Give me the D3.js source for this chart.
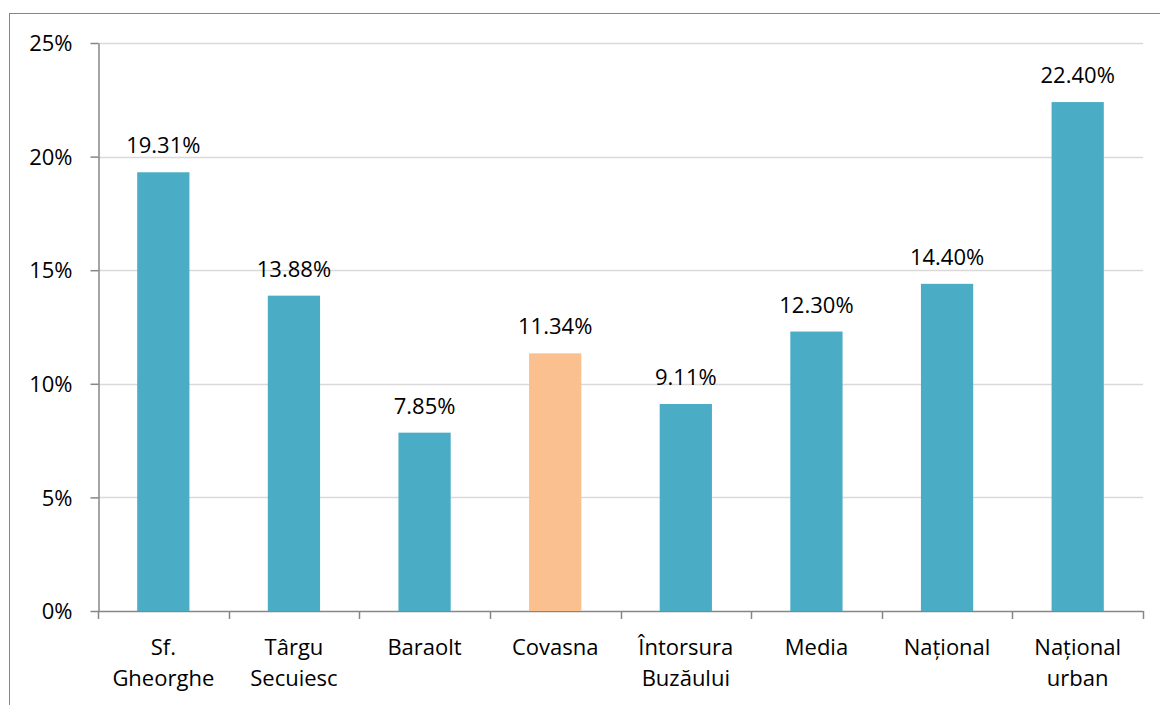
<!DOCTYPE html>
<html><head><meta charset="utf-8">
<script src="https://cdn.jsdelivr.net/npm/d3@7"></script>
<style>body{margin:0;background:#fff}svg{display:block}</style>
</head><body>
<svg id="c" width="1160" height="705"></svg>
<script>
const categories = [["Sf.","Gheorghe"],["Târgu","Secuiesc"],["Baraolt"],["Covasna"],["Întorsura","Buzăului"],["Media"],["Național"],["Național","urban"]];
const values = [19.31, 13.88, 7.85, 11.34, 9.11, 12.30, 14.40, 22.40];
const highlight = [false,false,false,true,false,false,false,false];
const yTicks = [0,5,10,15,20,25];

const svg = d3.select("#c");
const font = "'Open Sans', 'Noto Sans', sans-serif";
const fs = 22;
// outer frame
svg.append("rect").attr("x",9.5).attr("y",13.5).attr("width",1200).attr("height",800)
  .attr("fill","none").attr("stroke","#868686").attr("stroke-width",1);

const L=98, R=1143, T=43, B=611;
const x = d3.scaleBand().domain(d3.range(values.length)).range([L,R]).paddingInner(0.6).paddingOuter(0.3);
const y = d3.scaleLinear().domain([0,25]).range([B,T]);

// gridlines
svg.append("g").selectAll("line").data(yTicks.filter(d=>d>0)).join("line")
  .attr("x1",L).attr("x2",R).attr("y1",d=>Math.round(y(d))+0.5).attr("y2",d=>Math.round(y(d))+0.5)
  .attr("stroke","#d9d9d9").attr("stroke-width",1.5);

// y axis
const ya = svg.append("g").attr("transform",`translate(${L+0.5},0)`)
  .call(d3.axisLeft(y).tickValues(yTicks).tickFormat(d=>d+"%").tickSize(8).tickSizeOuter(0));
ya.select(".domain").attr("stroke","#868686").attr("stroke-width",1.5);
ya.selectAll(".tick line").attr("stroke","#868686").attr("stroke-width",1.5);
ya.selectAll(".tick text").attr("font-family",font).attr("font-size",fs).attr("fill","#000").attr("x",-26).attr("dy","0.35em");

// x axis
const step = (R-L)/values.length;
const xa = svg.append("g");
xa.append("line").attr("x1",L).attr("x2",R).attr("y1",B+0.5).attr("y2",B+0.5).attr("stroke","#868686").attr("stroke-width",1.5);
xa.selectAll("line.t").data(d3.range(values.length+1)).join("line").attr("class","t")
  .attr("x1",i=>Math.round(L+i*step)+0.5).attr("x2",i=>Math.round(L+i*step)+0.5)
  .attr("y1",B).attr("y2",B+8).attr("stroke","#868686").attr("stroke-width",1.5);

const lab = svg.append("g").selectAll("text").data(categories).join("text")
  .attr("font-family",font).attr("font-size",fs).attr("text-anchor","middle").attr("fill","#000");
lab.each(function(d,i){
  const t=d3.select(this);
  d.forEach((s,k)=>t.append("tspan").attr("x",x(i)+x.bandwidth()/2).attr("y",655+k*31).text(s));
});

// bars
svg.append("g").selectAll("rect").data(values).join("rect")
  .attr("x",(d,i)=>x(i)).attr("width",x.bandwidth())
  .attr("y",d=>y(d)).attr("height",d=>B-y(d))
  .attr("fill",(d,i)=>highlight[i]?"#fac090":"#4bacc6");

// value labels
svg.append("g").selectAll("text").data(values).join("text")
  .attr("x",(d,i)=>x(i)+x.bandwidth()/2).attr("y",d=>y(d)-19)
  .attr("font-family",font).attr("font-size",fs).attr("text-anchor","middle").attr("fill","#000")
  .text(d=>d.toFixed(2)+"%");
</script>
</body></html>
